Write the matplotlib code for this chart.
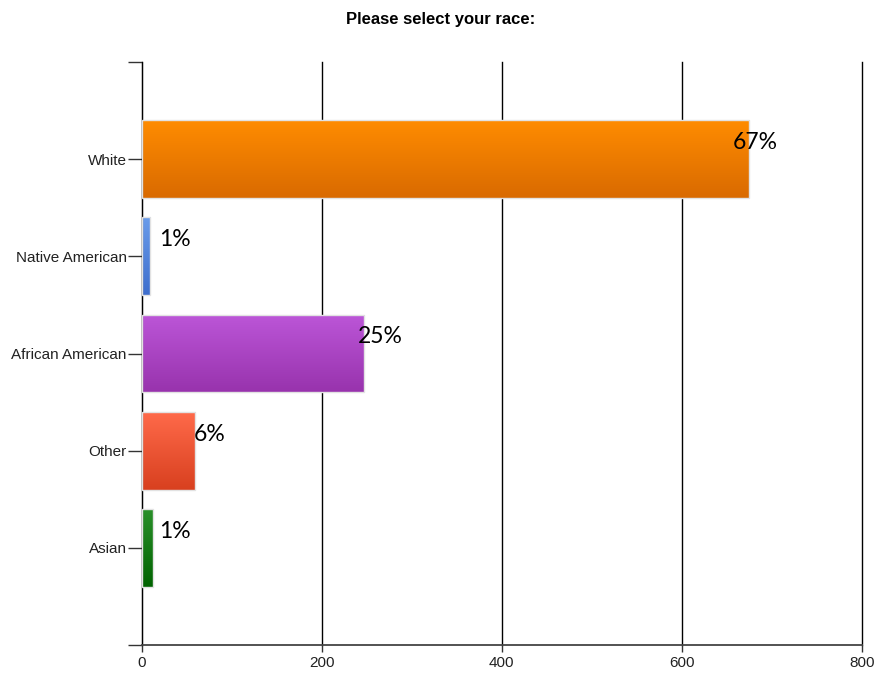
import matplotlib
matplotlib.use("Agg")
import matplotlib.pyplot as plt
from matplotlib.colors import LinearSegmentedColormap
import numpy as np

# respuestas por categoría
categories = ["White", "Native American", "African American", "Other", "Asian"]
counts = [675, 9, 247, 59, 12]
percent_labels = ["67%", "1%", "25%", "6%", "1%"]

# degradado de cada barra (arriba, abajo)
top_colors = ["#FF8C00", "#6A9CEA", "#BC56D8", "#FF6A4A", "#2A902A"]
bottom_colors = ["#D96A00", "#3E6ECD", "#9833AD", "#D8401F", "#006300"]

fig = plt.figure(figsize=(8.82, 6.74), dpi=100)
ax = fig.add_axes([0.161, 0.043, 0.816, 0.865])

# posiciones de arriba hacia abajo
y_pos = np.arange(len(categories), 0, -1)
bars = ax.barh(y_pos, counts, height=0.8, color="none",
               edgecolor="#E2E2E2", linewidth=1, zorder=3)

grad = np.linspace(0, 1, 256).reshape(-1, 1)
for bar, c_top, c_bot in zip(bars, top_colors, bottom_colors):
    x0, y0 = bar.get_x(), bar.get_y()
    w, h = bar.get_width(), bar.get_height()
    cmap = LinearSegmentedColormap.from_list("g", [c_top, c_bot])
    img = ax.imshow(grad, cmap=cmap, aspect="auto", origin="upper",
                    extent=[x0, x0 + w, y0, y0 + h], zorder=2)
    img.set_clip_path(bar)

# etiquetas de porcentaje
for y, val, lab in zip(y_pos, counts, percent_labels):
    ax.text(max(val * 0.972, 19), y + 0.17, lab, ha="left", va="center",
            fontsize=16.5, family=["Lato", "DejaVu Sans"], color="black", zorder=4)

ax.set_xlim(0, 800)
ax.set_ylim(0, 6)
ax.set_xticks([0, 200, 400, 600, 800])
ax.set_yticks(list(range(0, 7)))
ax.set_yticklabels([""] + categories[::-1] + [""])

for lab in ax.get_xticklabels() + ax.get_yticklabels():
    lab.set_family(["Liberation Sans", "DejaVu Sans"])
    lab.set_fontsize(11)
    lab.set_color("#222222")

ax.tick_params(axis="y", length=10, width=1, color="#333333", pad=1)
ax.tick_params(axis="x", length=5, width=1, color="#333333", pad=3)

ax.grid(axis="x", color="black", linewidth=1, zorder=0)
for line in ax.get_xgridlines():
    line.set_clip_on(False)
ax.set_axisbelow(True)
for side in ["top", "right"]:
    ax.spines[side].set_visible(False)
ax.spines["left"].set_color("black")
ax.spines["bottom"].set_color("#444444")
ax.spines["bottom"].set_linewidth(1.3)

fig.suptitle("Please select your race:", y=0.982, fontsize=12,
             fontweight="bold", family=["Liberation Sans", "DejaVu Sans"])

fig.savefig("out.png", dpi=100, facecolor="white")
